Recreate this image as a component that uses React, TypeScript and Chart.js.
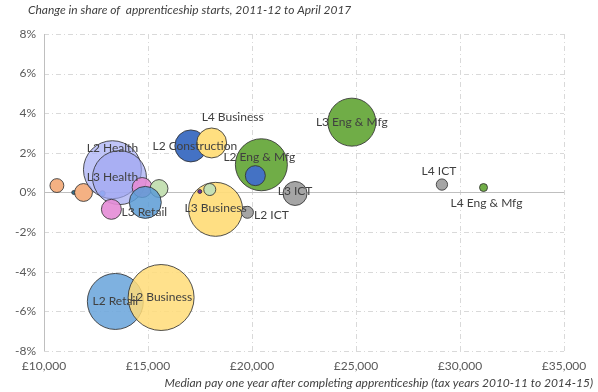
import { useEffect, useRef } from 'react';
import { Chart, registerables } from 'chart.js';

Chart.register(...registerables);

// Median pay one year after completing apprenticeship (£)
const pay = [10620, 11430, 11900, 12810, 13290, 13630, 14720, 15530, 14870, 13240, 17060, 18060, 18250, 17970, 17490, 19780, 20450, 20160, 22070, 24800, 29130, 31130, 13430, 15630];
// Change in share of apprenticeship starts (percentage points)
const shareChange = [0.35, 0.0, 0.0, -0.05, 1.15, 0.75, 0.25, 0.2, -0.5, -0.85, 2.35, 2.5, -0.85, 0.15, 0.05, -1.0, 1.4, 0.85, -0.05, 3.55, 0.4, 0.25, -5.5, -5.3];
// Bubble size (relative volume of starts)
const starts = [12, 1, 20, 2, 210, 182, 25, 20, 64, 25, 64, 56, 182, 9, 1, 9, 169, 25, 36, 144, 8, 4, 196, 272];
const names = ['', '', '', '', 'L2 Health', 'L3 Health', '', '', 'L3 Retail', '', 'L2 Construction', 'L4 Business', 'L3 Business', '', '', 'L2 ICT', 'L2 Eng & Mfg', '', 'L3 ICT', 'L3 Eng & Mfg', 'L4 ICT', 'L4 Eng & Mfg', 'L2 Retail', 'L2 Business'];

const xTicks = [10000, 15000, 20000, 25000, 30000, 35000];
const yTicks = [-8, -6, -4, -2, 0, 2, 4, 6, 8];

const chartTitle = 'Change in share of  apprenticeship starts, 2011-12 to April 2017';
const xTitle = 'Median pay one year after completing apprenticeship (tax years 2010-11 to 2014-15)';

// styles
const fills = [
  '#F4B183', '#31708E', '#F4B183', '#00B0F0',
  'rgba(168,175,245,0.72)', 'rgba(158,165,240,0.68)', 'rgba(228,140,214,0.9)', '#C5E0B4',
  'rgba(91,155,213,0.85)', 'rgba(228,140,214,0.9)', '#4472C4', '#FFDF80',
  'rgba(255,220,120,0.92)', '#C5E0B4', '#7030A0', '#A5A5A5',
  '#70AD47', '#4472C4', '#A5A5A5', '#70AD47',
  '#A5A5A5', '#70AD47', 'rgba(108,166,220,0.88)', 'rgba(255,220,120,0.85)',
];
const labelOffsets: [number, number][] = [
  [0, 0], [0, 0], [0, 0], [0, 0], [0, -22], [-7, -1], [0, 0], [0, 0], [-1, 10], [0, 0], [4, 0], [21, -26],
  [0, -1], [0, 0], [0, 0], [24, 3], [-2, -8], [0, 0], [0, -2], [0, 0], [-3, -13], [3, 16], [0, 0], [0, 0],
];

const FONT = 'Lato, "Liberation Sans", sans-serif';

export default function App() {
  const ref = useRef<HTMLCanvasElement | null>(null);

  useEffect(() => {
    document.body.style.margin = '0';
    const canvas = ref.current;
    if (!canvas) return;

    const decor = {
      id: 'decor',
      beforeDraw(chart: any) {
        const ctx = chart.ctx;
        ctx.save();
        ctx.fillStyle = '#ffffff';
        ctx.fillRect(0, 0, chart.width, chart.height);
        ctx.restore();
      },
      beforeDatasetsDraw(chart: any) {
        const ctx = chart.ctx;
        const xs = chart.scales.x;
        const ys = chart.scales.y;
        const a = chart.chartArea;
        ctx.save();
        ctx.lineWidth = 1;
        ctx.strokeStyle = '#D9D9D9';
        ctx.setLineDash([5, 3, 1, 3]);
        xTicks.forEach((v) => {
          if (v === xTicks[0]) return;
          const px = Math.round(xs.getPixelForValue(v)) + 0.5;
          ctx.beginPath();
          ctx.moveTo(px, a.top);
          ctx.lineTo(px, a.bottom);
          ctx.stroke();
        });
        yTicks.forEach((v) => {
          if (v === 0) return;
          const py = Math.round(ys.getPixelForValue(v)) + 0.5;
          ctx.beginPath();
          ctx.moveTo(a.left, py);
          ctx.lineTo(a.right, py);
          ctx.stroke();
        });
        ctx.setLineDash([]);
        ctx.strokeStyle = '#BFBFBF';
        const lx = Math.round(xs.getPixelForValue(xTicks[0])) + 0.5;
        ctx.beginPath();
        ctx.moveTo(lx, a.top);
        ctx.lineTo(lx, a.bottom);
        ctx.stroke();
        const zy = Math.round(ys.getPixelForValue(0)) + 0.5;
        ctx.beginPath();
        ctx.moveTo(a.left, zy);
        ctx.lineTo(a.right, zy);
        ctx.stroke();
        ctx.restore();
      },
      afterDatasetsDraw(chart: any) {
        const ctx = chart.ctx;
        const meta = chart.getDatasetMeta(0);
        ctx.save();
        ctx.font = `12px ${FONT}`;
        ctx.fillStyle = '#404040';
        ctx.textAlign = 'center';
        ctx.textBaseline = 'middle';
        meta.data.forEach((el: any, i: number) => {
          if (!names[i]) return;
          const [dx, dy] = labelOffsets[i];
          ctx.fillText(names[i], el.x + dx, el.y + dy);
        });
        ctx.restore();
      },
      afterDraw(chart: any) {
        const ctx = chart.ctx;
        ctx.save();
        ctx.fillStyle = '#404040';
        ctx.font = `italic 12px ${FONT}`;
        ctx.textBaseline = 'middle';
        ctx.textAlign = 'left';
        ctx.fillText(chartTitle, 28, 10);
        ctx.textAlign = 'right';
        ctx.fillText(xTitle, 593, 383);
        ctx.restore();
      },
    };

    const chart = new Chart(canvas, {
      type: 'bubble',
      data: {
        datasets: [
          {
            data: pay.map((x, i) => ({ x, y: shareChange[i], r: 2 * Math.sqrt(starts[i]) })),
            backgroundColor: fills,
            borderColor: 'rgba(50,50,50,0.85)',
            borderWidth: 1,
          },
        ],
      },
      options: {
        responsive: false,
        animation: false,
        events: [],
        layout: { padding: { top: 30, right: 30, left: 0, bottom: 0 } },
        plugins: { legend: { display: false }, tooltip: { enabled: false }, title: { display: false } },
        scales: {
          x: {
            type: 'linear',
            min: 10000,
            max: 35000,
            afterBuildTicks: (s: any) => {
              s.ticks = xTicks.map((v) => ({ value: v }));
            },
            afterFit: (s: any) => {
              s.height = 41;
              s.paddingLeft = 0;
              s.paddingRight = 0;
            },
            ticks: {
              color: '#595959',
              font: { family: FONT, size: 12 },
              padding: 8,
              maxRotation: 0,
              autoSkip: false,
              callback: (v: any) => '£' + Number(v).toLocaleString('en-GB'),
            },
            grid: { display: false, drawTicks: false },
            border: { display: false },
          },
          y: {
            type: 'linear',
            min: -8,
            max: 8,
            afterBuildTicks: (s: any) => {
              s.ticks = yTicks.map((v) => ({ value: v }));
            },
            afterFit: (s: any) => {
              s.width = 44;
              s.paddingTop = 0;
              s.paddingBottom = 0;
            },
            ticks: {
              color: '#595959',
              font: { family: FONT, size: 12 },
              padding: 8,
              callback: (v: any) => v + '%',
            },
            grid: { display: false, drawTicks: false },
            border: { display: false },
          },
        },
      },
      plugins: [decor],
    });

    return () => chart.destroy();
  }, []);

  return (
    <div style={{ width: 598, height: 392, position: 'relative' }}>
      <canvas ref={ref} width={598} height={392} style={{ width: 598, height: 392, display: 'block' }} />
    </div>
  );
}
